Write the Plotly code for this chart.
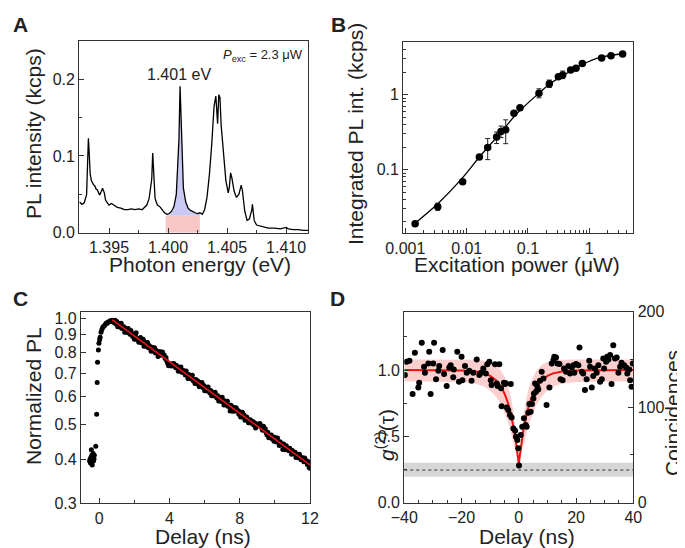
import math
import plotly.graph_objects as go

# ---------------- panel A: PL spectrum ----------------
spec_energy = [1.3925, 1.3927, 1.3929, 1.3931, 1.39315, 1.3932, 1.39325, 1.3933, 1.39335, 1.3934,
               1.3935, 1.3936, 1.3937, 1.3938, 1.3939, 1.3940, 1.3941, 1.3942, 1.39435, 1.39445,
               1.3946, 1.3947, 1.3948, 1.3949, 1.3950, 1.3952, 1.3953, 1.3955, 1.3957, 1.3960,
               1.3963, 1.3966, 1.3969, 1.3972, 1.3975, 1.3978, 1.3980, 1.3982, 1.3984, 1.39862,
               1.3987, 1.39878, 1.3989, 1.3990, 1.3991, 1.3993, 1.3995, 1.3997, 1.3999, 1.4001,
               1.4003, 1.4005, 1.4007, 1.4008, 1.40092, 1.40102, 1.4011, 1.4012, 1.4013, 1.4015,
               1.4017, 1.4019, 1.4021, 1.4023, 1.4025, 1.4027, 1.4029, 1.4031, 1.4033, 1.4035,
               1.4037, 1.4039, 1.40405, 1.40415, 1.4042, 1.4043, 1.4044, 1.4045, 1.4047, 1.4049,
               1.4051, 1.4052, 1.4053, 1.4054, 1.4056, 1.4058, 1.4060, 1.4062, 1.4063, 1.4065,
               1.4067, 1.4069, 1.4071, 1.40715, 1.4072, 1.4073, 1.4075, 1.4078, 1.4081, 1.4085,
               1.4090, 1.4095, 1.4100, 1.4102, 1.4106, 1.4110, 1.4115, 1.4119]
spec_int = [0.040, 0.037, 0.039, 0.050, 0.075, 0.110, 0.123, 0.110, 0.088, 0.077,
            0.068, 0.064, 0.062, 0.061, 0.057, 0.056, 0.052, 0.049, 0.054, 0.058,
            0.052, 0.043, 0.040, 0.037, 0.036, 0.038, 0.037, 0.034, 0.033, 0.032,
            0.030, 0.030, 0.031, 0.030, 0.031, 0.030, 0.033, 0.036, 0.045, 0.070,
            0.104, 0.075, 0.045, 0.040, 0.036, 0.034, 0.030, 0.026, 0.024, 0.025,
            0.028, 0.034, 0.050, 0.080, 0.120, 0.191, 0.150, 0.090, 0.058, 0.040,
            0.032, 0.029, 0.027, 0.026, 0.025, 0.026, 0.024, 0.030, 0.046, 0.075,
            0.115, 0.165, 0.178, 0.150, 0.142, 0.180, 0.176, 0.140, 0.098, 0.068,
            0.052, 0.060, 0.078, 0.072, 0.054, 0.046, 0.050, 0.062, 0.055, 0.028,
            0.016, 0.018, 0.030, 0.037, 0.030, 0.016, 0.010, 0.009, 0.008, 0.006,
            0.006, 0.005, 0.007, 0.005, 0.004, 0.004, 0.003, 0.003]
band_lo, band_hi, band_base = 1.3998, 1.4027, 0.022

# ---------------- panel B: power dependence ----------------
power_uw = [0.00144, 0.00337, 0.0086, 0.0161, 0.0220, 0.0308, 0.0363, 0.0433, 0.059, 0.074,
            0.151, 0.223, 0.313, 0.368, 0.497, 0.607, 0.769, 1.59, 2.26, 3.50]
pl_int = [0.0189, 0.032, 0.0689, 0.148, 0.197, 0.273, 0.324, 0.342, 0.568, 0.67,
          1.05, 1.40, 1.74, 1.84, 2.14, 2.25, 2.62, 3.09, 3.31, 3.49]
err_up = [0.0005, 0.0037, 0.002, 0.004, 0.063, 0.045, 0.058, 0.12, 0.015, 0.02,
          0.15, 0.17, 0.05, 0.23, 0.06, 0.06, 0.07, 0.08, 0.08, 0.08]
err_dn = [0.0005, 0.0034, 0.002, 0.004, 0.061, 0.050, 0.056, 0.12, 0.015, 0.02,
          0.14, 0.15, 0.05, 0.20, 0.06, 0.06, 0.07, 0.08, 0.08, 0.08]
fit_power = [0.00144, 0.00344, 0.0088, 0.0165, 0.0349, 0.0655, 0.147, 0.229, 0.428, 0.80, 1.50, 3.8]
fit_int = [0.0193, 0.0356, 0.080, 0.151, 0.303, 0.557, 1.03, 1.40, 1.93, 2.57, 3.15, 3.55]

# ---------------- panel C: PL decay ----------------
rise_delay = [-0.55, -0.52, -0.50, -0.47, -0.45, -0.42, -0.40, -0.38, -0.35, -0.33, -0.30, -0.28,
              -0.20, -0.15, -0.12, -0.10, -0.05, -0.02, 0.02, 0.05, 0.10, 0.15, 0.20, 0.25,
              0.30, 0.35, 0.40, 0.45, 0.50, 0.55, 0.60, 0.65, 0.70, 0.75]
rise_pl = [0.395, 0.400, 0.390, 0.405, 0.425, 0.410, 0.385, 0.400, 0.415, 0.395, 0.400, 0.410,
           0.435, 0.536, 0.658, 0.751, 0.814, 0.850, 0.870, 0.884, 0.913, 0.930, 0.943, 0.950,
           0.955, 0.962, 0.970, 0.968, 0.975, 0.978, 0.982, 0.985, 0.980, 0.988]
decay_delay = [
    0.80, 0.85, 0.90, 0.95, 1.00, 1.05, 1.10, 1.15, 1.20, 1.25, 1.30, 1.35, 1.40, 1.45, 1.50, 1.55, 1.60, 1.65, 1.70, 1.75,
    1.80, 1.85, 1.90, 1.95, 2.00, 2.05, 2.10, 2.15, 2.20, 2.25, 2.30, 2.35, 2.40, 2.45, 2.50, 2.55, 2.60, 2.65, 2.70, 2.75,
    2.80, 2.85, 2.90, 2.95, 3.00, 3.05, 3.10, 3.15, 3.20, 3.25, 3.30, 3.35, 3.40, 3.45, 3.50, 3.55, 3.60, 3.65, 3.70, 3.75,
    3.80, 3.85, 3.90, 3.95, 4.00, 4.05, 4.10, 4.15, 4.20, 4.25, 4.30, 4.35, 4.40, 4.45, 4.50, 4.55, 4.60, 4.65, 4.70, 4.75,
    4.80, 4.85, 4.90, 4.95, 5.00, 5.05, 5.10, 5.15, 5.20, 5.25, 5.30, 5.35, 5.40, 5.45, 5.50, 5.55, 5.60, 5.65, 5.70, 5.75,
    5.80, 5.85, 5.90, 5.95, 6.00, 6.05, 6.10, 6.15, 6.20, 6.25, 6.30, 6.35, 6.40, 6.45, 6.50, 6.55, 6.60, 6.65, 6.70, 6.75,
    6.80, 6.85, 6.90, 6.95, 7.00, 7.05, 7.10, 7.15, 7.20, 7.25, 7.30, 7.35, 7.40, 7.45, 7.50, 7.55, 7.60, 7.65, 7.70, 7.75,
    7.80, 7.85, 7.90, 7.95, 8.00, 8.05, 8.10, 8.15, 8.20, 8.25, 8.30, 8.35, 8.40, 8.45, 8.50, 8.55, 8.60, 8.65, 8.70, 8.75,
    8.80, 8.85, 8.90, 8.95, 9.00, 9.05, 9.10, 9.15, 9.20, 9.25, 9.30, 9.35, 9.40, 9.45, 9.50, 9.55, 9.60, 9.65, 9.70, 9.75,
    9.80, 9.85, 9.90, 9.95, 10.00, 10.05, 10.10, 10.15, 10.20, 10.25, 10.30, 10.35, 10.40, 10.45, 10.50, 10.55, 10.60, 10.65, 10.70, 10.75,
    10.80, 10.85, 10.90, 10.95, 11.00, 11.05, 11.10, 11.15, 11.20, 11.25, 11.30, 11.35, 11.40, 11.45, 11.50, 11.55, 11.60, 11.65, 11.70, 11.75,
    11.80, 11.85, 11.90, 11.95, 12.00]
decay_pl = [
    0.986, 0.972, 0.988, 0.963, 0.979, 0.946, 0.961, 0.967, 0.943, 0.968, 0.936, 0.941, 0.946, 0.914, 0.938, 0.925, 0.912, 0.936, 0.914, 0.901,
    0.924, 0.902, 0.889, 0.904, 0.873, 0.896, 0.911, 0.871, 0.876, 0.856, 0.878, 0.883, 0.853, 0.858, 0.872, 0.834, 0.855, 0.844, 0.832, 0.854,
    0.825, 0.838, 0.826, 0.807, 0.828, 0.808, 0.813, 0.825, 0.798, 0.811, 0.799, 0.780, 0.801, 0.806, 0.786, 0.791, 0.803, 0.785, 0.788, 0.770,
    0.775, 0.756, 0.745, 0.734, 0.739, 0.743, 0.733, 0.744, 0.734, 0.745, 0.735, 0.725, 0.736, 0.726, 0.709, 0.727, 0.717, 0.728, 0.704, 0.708,
    0.712, 0.702, 0.692, 0.710, 0.693, 0.676, 0.694, 0.685, 0.675, 0.686, 0.690, 0.666, 0.670, 0.654, 0.672, 0.662, 0.666, 0.649, 0.641, 0.658,
    0.648, 0.658, 0.637, 0.646, 0.624, 0.635, 0.638, 0.623, 0.640, 0.624, 0.615, 0.625, 0.604, 0.614, 0.617, 0.603, 0.618, 0.603, 0.595, 0.604,
    0.584, 0.593, 0.597, 0.582, 0.598, 0.583, 0.569, 0.585, 0.576, 0.568, 0.583, 0.563, 0.567, 0.547, 0.568, 0.560, 0.546, 0.561, 0.547, 0.550,
    0.559, 0.546, 0.549, 0.536, 0.544, 0.526, 0.534, 0.543, 0.525, 0.533, 0.515, 0.523, 0.526, 0.514, 0.507, 0.515, 0.517, 0.505, 0.508, 0.511,
    0.499, 0.507, 0.490, 0.498, 0.501, 0.503, 0.496, 0.504, 0.497, 0.490, 0.483, 0.495, 0.484, 0.487, 0.475, 0.468, 0.476, 0.460, 0.467, 0.460,
    0.468, 0.456, 0.460, 0.449, 0.461, 0.454, 0.447, 0.459, 0.448, 0.437, 0.448, 0.439, 0.441, 0.426, 0.441, 0.435, 0.425, 0.436, 0.426, 0.428,
    0.422, 0.429, 0.423, 0.413, 0.423, 0.414, 0.416, 0.418, 0.404, 0.411, 0.413, 0.403, 0.413, 0.404, 0.398, 0.404, 0.399, 0.393, 0.403, 0.394,
    0.396, 0.386, 0.393, 0.379, 0.377]
decay_fit_t = [0.75, 12.0]
decay_fit_pl = [0.99, 0.385]

# ---------------- panel D: g2 ----------------
g2_delay = [-39.8, -39.2, -38.2, -37.1, -36.3, -35.1, -34.8, -33.9, -33.1, -32.8, -31.6, -31.3, -30.8, -29.9,
            -29.6, -28.9, -28.1, -27.8, -26.6, -26.1, -25.2, -24.3, -23.8, -22.9, -22.7, -21.5, -20.9, -20.0,
            -19.7, -18.8, -18.2, -17.3, -16.5, -15.9, -14.7, -13.8, -13.2, -12.4, -11.5, -11.0, -10.3, -9.8,
            -9.5, -8.3, -7.7, -7.4, -6.8, -6.2, -6.0, -5.2, -4.8, -4.5, -4.2, -3.7, -3.1, -2.8, -2.5, -1.9,
            -1.3, -1.0, -0.5, -0.2, 0.07, 0.65, 1.2, 1.8, 2.4, 2.75, 3.3, 3.7, 4.15, 4.6, 5.1, 5.3, 5.7, 6.0,
            6.5, 6.8, 7.4, 8.0, 8.6, 9.7, 10.7, 11.5, 12.1, 12.4, 13.0, 13.5, 14.2, 14.6, 15.3, 15.8, 16.5,
            17.3, 17.9, 18.5, 19.1, 19.4, 20.0, 20.8, 21.2, 22.0, 22.5, 23.1, 23.7, 24.6, 24.9, 25.5, 26.0,
            26.6, 27.2, 27.8, 28.4, 29.0, 29.5, 29.8, 30.5, 30.9, 31.3, 31.9, 32.4, 33.0, 33.6, 34.2, 34.8,
            35.4, 35.9, 36.8, 37.5, 37.9, 38.6, 38.9, 39.4, 39.8]
g2_val = [0.962, 1.063, 1.070, 0.819, 1.130, 0.869, 0.904, 1.206, 1.025, 0.980, 1.050, 1.138, 0.819, 1.050,
          1.206, 0.930, 0.995, 1.030, 1.151, 0.970, 0.879, 1.020, 1.037, 0.945, 1.005, 1.138, 0.912, 1.100,
          0.924, 1.030, 0.980, 0.995, 0.919, 0.980, 1.080, 0.962, 0.980, 1.012, 0.975, 1.043, 1.063, 0.924,
          0.887, 1.043, 0.899, 0.879, 1.043, 0.862, 0.728, 0.904, 0.894, 0.900, 0.718, 0.698, 0.661, 0.894, 0.643, 0.560,
          0.543, 0.497, 0.472, 0.410, 0.281, 0.510, 0.573, 0.636, 0.585, 0.573, 0.678, 0.744, 0.686, 0.744,
          0.786, 0.824, 0.899, 0.836, 0.874, 0.854, 0.919, 0.987, 0.937, 0.736, 0.869, 1.050, 1.075, 1.100,
          1.095, 1.050, 1.045, 0.930, 0.924, 1.012, 0.987, 1.030, 0.975, 1.020, 1.037, 0.980, 1.045, 1.037,
          1.171, 0.987, 0.975, 0.849, 0.930, 1.070, 1.025, 0.869, 0.955, 1.012, 0.980, 1.037, 0.912, 0.930,
          1.088, 1.012, 1.063, 1.100, 1.080, 1.113, 0.894, 1.188, 1.088, 1.095, 0.980, 1.025, 1.055, 1.037,
          1.020, 0.975, 1.005, 0.924, 0.874, 1.050]
g2_fit_t = [-40, -20, -15, -12, -10, -8, -7, -6, -5, -4, -3, -2.5, -2, -1.5, -1, -0.5, -0.25, 0,
            0.25, 0.5, 1, 1.5, 2, 2.5, 3, 4, 5, 6, 7, 8, 10, 12, 15, 20, 40]
g2_fit = [1.0, 0.997, 0.989, 0.975, 0.956, 0.923, 0.898, 0.866, 0.823, 0.766, 0.692, 0.646, 0.593, 0.532,
          0.462, 0.382, 0.337, 0.29, 0.337, 0.382, 0.462, 0.532, 0.593, 0.646, 0.692, 0.766, 0.823, 0.866,
          0.898, 0.923, 0.956, 0.975, 0.989, 0.997, 1.0]
band_t = [-40, -20, -15, -12, -10, -8, -6, -5, -4, -3, -2, -1, 0, 1, 2, 3, 4, 5, 6, 8, 10, 12, 15, 20, 40]
band_up = [1.08, 1.08, 1.077, 1.07, 1.06, 1.04, 0.99, 0.95, 0.90, 0.82, 0.71, 0.54, 0.29,
           0.54, 0.71, 0.82, 0.90, 0.95, 0.99, 1.04, 1.06, 1.07, 1.077, 1.08, 1.08]
band_dn = [0.915, 0.91, 0.897, 0.875, 0.845, 0.80, 0.73, 0.68, 0.62, 0.55, 0.47, 0.38, 0.29,
           0.38, 0.47, 0.55, 0.62, 0.68, 0.73, 0.80, 0.845, 0.875, 0.897, 0.91, 0.915]
g2_limit, g2_limit_lo, g2_limit_hi = 0.246, 0.196, 0.302
coinc_range = [0, 200]

INK = "#222"
FONT = "Liberation Sans, Arial, sans-serif"
# the page body has an 8px margin, so the figure is sized to fill the rest of the window
OFF = 8
W, H = 685 - OFF, 548 - OFF


def px_x(p):
    return (p - OFF) / W


def px_y(p):
    return 1 - (p - OFF) / H


fig = go.Figure()

# A
fig.add_trace(go.Scatter(x=[band_lo, band_hi, band_hi, band_lo], y=[0, 0, band_base, band_base],
                         fill="toself", fillcolor="#f9c6c6", mode="lines", line=dict(width=0),
                         xaxis="x", yaxis="y", hoverinfo="skip"))
sel = [(e, v) for e, v in zip(spec_energy, spec_int) if band_lo <= e <= band_hi]
fig.add_trace(go.Scatter(x=[e for e, _ in sel], y=[band_base] * len(sel), mode="lines",
                         line=dict(width=0), xaxis="x", yaxis="y", hoverinfo="skip"))
fig.add_trace(go.Scatter(x=[e for e, _ in sel], y=[v for _, v in sel], mode="lines", fill="tonexty",
                         fillcolor="#c9c9f3", line=dict(width=0), xaxis="x", yaxis="y", hoverinfo="skip"))
fig.add_trace(go.Scatter(x=spec_energy, y=spec_int, mode="lines", line=dict(color="black", width=1.3),
                         xaxis="x", yaxis="y"))

# B
fig.add_trace(go.Scatter(x=fit_power, y=fit_int, mode="lines", line=dict(color="black", width=1.3, shape="spline"),
                         xaxis="x2", yaxis="y2"))
fig.add_trace(go.Scatter(x=power_uw, y=pl_int, mode="markers", marker=dict(color="black", size=7.5),
                         error_y=dict(type="data", array=err_up, arrayminus=err_dn, color="#222",
                                      thickness=1, width=2.5),
                         xaxis="x2", yaxis="y2"))

# C
fig.add_trace(go.Scatter(x=rise_delay + decay_delay, y=rise_pl + decay_pl, mode="markers",
                         marker=dict(color="black", size=5), xaxis="x3", yaxis="y3"))
fig.add_trace(go.Scatter(x=decay_fit_t, y=decay_fit_pl, mode="lines", line=dict(color="#e8161b", width=1.6),
                         xaxis="x3", yaxis="y3"))

# D
fig.add_trace(go.Scatter(x=band_t, y=band_dn, mode="lines", line=dict(width=0), xaxis="x4", yaxis="y4",
                         hoverinfo="skip"))
fig.add_trace(go.Scatter(x=band_t, y=band_up, mode="lines", line=dict(width=0), fill="tonexty",
                         fillcolor="rgba(250,160,160,0.5)", xaxis="x4", yaxis="y4", hoverinfo="skip"))
fig.add_trace(go.Scatter(x=g2_fit_t, y=g2_fit, mode="lines", line=dict(color="#ee1111", width=2),
                         xaxis="x4", yaxis="y4"))
fig.add_trace(go.Scatter(x=g2_delay, y=g2_val, mode="markers", marker=dict(color="black", size=6),
                         xaxis="x4", yaxis="y4"))
# empty trace so the right-hand "Coincidences" axis is drawn
fig.add_trace(go.Scatter(x=[None], y=[None], mode="markers", xaxis="x4", yaxis="y5", hoverinfo="skip"))

fig.add_shape(type="rect", xref="x4 domain", yref="y4", x0=0, x1=1, y0=g2_limit_lo, y1=g2_limit_hi,
              fillcolor="#d6d6d6", line=dict(width=0), layer="below")
fig.add_shape(type="line", xref="x4 domain", yref="y4", x0=0, x1=1, y0=g2_limit, y1=g2_limit,
              line=dict(color="#333", width=1, dash="dot"))


def axis(**kw):
    base = dict(showline=True, mirror=True, linecolor="#333", linewidth=1.3, ticks="inside", ticklen=5,
                tickwidth=1.2, tickcolor="#333", showgrid=False, zeroline=False, automargin=False,
                tickfont=dict(size=16, color=INK, family=FONT))
    base.update(kw)
    return base


def minor(**kw):
    m = dict(ticks="inside", ticklen=3, tickwidth=1, tickcolor="#333", showgrid=False)
    m.update(kw)
    return m


log_minor_x = [d * 10 ** k for k in range(-3, 1) for d in range(2, 10)]
log_minor_y = [d * 10 ** k for k in range(-2, 1) for d in range(2, 10)]

fig.update_layout(
    width=W, height=H, margin=dict(l=0, r=0, t=0, b=0, autoexpand=False),
    paper_bgcolor="white", plot_bgcolor="white", showlegend=False,
    font=dict(family=FONT, color=INK),
    xaxis=axis(domain=[px_x(79.3), px_x(308)], anchor="y", range=[1.39248, 1.41186],
               tickmode="linear", tick0=1.395, dtick=0.005, tickformat=".3f",
               minor=minor(tick0=1.395, dtick=0.0025)),
    yaxis=axis(domain=[px_y(232.7), px_y(40.7)], anchor="x", range=[0, 0.2503],
               tickmode="linear", tick0=0, dtick=0.1, tickformat=".1f", minor=minor(dtick=0.05)),
    xaxis2=axis(domain=[px_x(403.3), px_x(632.7)], anchor="y2", type="log", range=[-3.034, 0.708],
                tickvals=[0.001, 0.01, 0.1, 1], ticktext=["0.001", "0.01", "0.1", "1"],
                minor=minor(tickvals=log_minor_x)),
    yaxis2=axis(domain=[px_y(233.3), px_y(41.7)], anchor="x2", type="log", range=[-1.85, 0.708],
                tickvals=[0.1, 1], ticktext=["0.1", "1"], minor=minor(tickvals=log_minor_y)),
    xaxis3=axis(domain=[px_x(81), px_x(310)], anchor="y3", range=[-1.04, 12.0],
                tickvals=[0, 4, 8, 12], minor=minor(tickvals=[2, 6, 10])),
    yaxis3=axis(domain=[px_y(503.3), px_y(311.7)], anchor="x3", type="log",
                range=[math.log10(0.3), 0.0187],
                tickvals=[0.3, 0.4, 0.5, 0.6, 0.7, 0.8, 0.9, 1.0],
                ticktext=["0.3", "0.4", "0.5", "0.6", "0.7", "0.8", "0.9", "1.0"]),
    xaxis4=axis(domain=[px_x(404.3), px_x(633.3)], anchor="y4", range=[-40, 40],
                tickmode="linear", tick0=-40, dtick=20, minor=minor(dtick=5, tick0=-40)),
    yaxis4=axis(domain=[px_y(502.7), px_y(311.7)], anchor="x4", range=[0, 1.44],
                tickmode="linear", tick0=0, dtick=0.5, tickformat=".1f", minor=minor(dtick=0.25)),
    yaxis5=axis(anchor="x4", overlaying="y4", side="right",
                range=coinc_range, tickmode="linear", tick0=0, dtick=100, minor=minor(dtick=50),
                mirror=False),
)

TITLE = 21
ann = [
    # panel letters
    dict(text="<b>A</b>", x=px_x(20.5), y=px_y(24.5), font=dict(size=21)),
    dict(text="<b>B</b>", x=px_x(338), y=px_y(24), font=dict(size=21)),
    dict(text="<b>C</b>", x=px_x(20.5), y=px_y(298), font=dict(size=21)),
    dict(text="<b>D</b>", x=px_x(337), y=px_y(298), font=dict(size=21)),
    # axis titles
    dict(text="Photon energy (eV)", x=px_x(200), y=px_y(265), font=dict(size=TITLE)),
    dict(text="PL intensity (kcps)", x=px_x(33), y=px_y(134), textangle=-90, font=dict(size=TITLE)),
    dict(text="Excitation power (\u03bcW)", x=px_x(517), y=px_y(265), font=dict(size=TITLE)),
    dict(text="Integrated PL int. (kcps)", x=px_x(355), y=px_y(134), textangle=-90, font=dict(size=TITLE)),
    dict(text="Delay (ns)", x=px_x(203), y=px_y(536), font=dict(size=TITLE)),
    dict(text="Normalized PL", x=px_x(33), y=px_y(396), textangle=-90, font=dict(size=TITLE)),
    dict(text="Delay (ns)", x=px_x(527), y=px_y(536), font=dict(size=TITLE)),
    dict(text="<i>g</i><sup>(2)</sup>(\u03c4)", x=px_x(385), y=px_y(435), textangle=-90, font=dict(size=TITLE)),
    dict(text="Coincidences", x=px_x(672), y=px_y(413), textangle=-90, font=dict(size=TITLE)),
]
for a in ann:
    a.update(xref="paper", yref="paper", showarrow=False, xanchor="center", yanchor="middle")
    a["font"] = dict(family=FONT, color=INK, **a["font"])
    fig.add_annotation(**a)

fig.add_annotation(text="1.401 eV", x=1.4009, y=0.2056, xref="x", yref="y", showarrow=False,
                   font=dict(family=FONT, size=16, color=INK))
fig.add_annotation(text="<i>P</i><sub>exc</sub> = 2.3 \u03bcW", x=0.985, y=0.925, xref="x domain",
                   yref="y domain", xanchor="right", yanchor="middle", showarrow=False,
                   font=dict(family=FONT, size=13, color=INK))

fig.write_html("out.html")
